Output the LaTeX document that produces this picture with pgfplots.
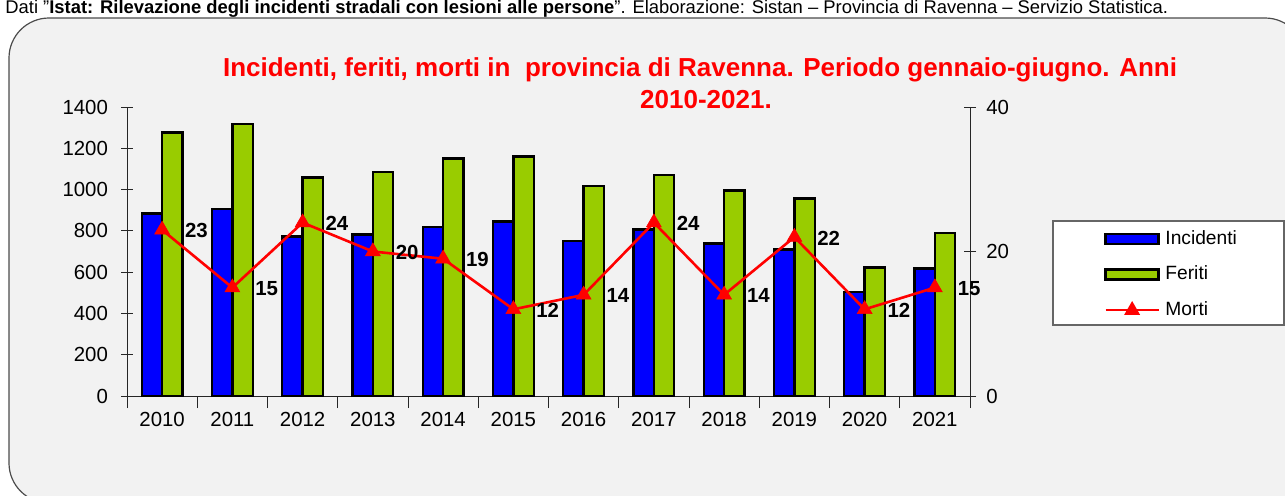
\documentclass[border=0pt]{standalone}
\usepackage{fontspec}
\setmainfont{Liberation Sans}
\usepackage{pgfplots}
\pgfplotsset{compat=1.18}
\definecolor{bgc}{HTML}{F2F2F2}
\definecolor{fer}{HTML}{99CC00}
\definecolor{inc}{HTML}{0000FF}
\newcommand{\tickfont}{\fontsize{10.2}{12}\selectfont}
\newcommand{\dq}{\symbol{34}}
\begin{document}
\begin{tikzpicture}
\begin{scope}[x=0.5pt,y=0.5pt]
\useasboundingbox (0,0) rectangle (1285,495);
\clip (0,0) rectangle (1285,495);
\fill[white] (0,0) rectangle (1285,495);
\draw[fill=bgc, draw=black!70, line width=0.6pt, rounded corners=20pt] (9,-8) rectangle (1305,477);
\node[anchor=base west, inner sep=0pt, font=\fontsize{9.2}{11}\selectfont] at (5,482)
 {Dati \dq\textbf{Istat: Rilevazione degli incidenti stradali con lesioni alle persone}\dq. Elaborazione: Sistan – Provincia di Ravenna – Servizio Statistica.};
\node[anchor=base, inner sep=0pt, text=red, font=\bfseries\fontsize{13}{15}\selectfont] at (700,419)
 {Incidenti, feriti, morti in\ \ provincia di Ravenna. Periodo gennaio-giugno. Anni};
\node[anchor=base, inner sep=0pt, text=red, font=\bfseries\fontsize{13}{15}\selectfont] at (706,387)
 {2010-2021.};
\draw[fill=white, draw=black!60, line width=0.6pt] (1053,170) rectangle (1284,274);
\end{scope}

\begin{axis}[
  at={(63.5pt,49.5pt)}, anchor=south west,
  scale only axis, width=421.5pt, height=144.5pt,
  xmin=-0.5, xmax=11.5, ymin=0, ymax=1400,
  ytick={0,200,...,1400},
  xtick={-0.5,0.5,...,11.5}, xticklabels={},
  extra x ticks={0,1,...,11},
  extra x tick labels={2010,2011,2012,2013,2014,2015,2016,2017,2018,2019,2020,2021},
  extra x tick style={major tick length=0pt},
  axis x line=bottom, axis y line=left,
  axis line style={-, black!85, line width=0.5pt},
  every tick/.style={black!85, line width=0.5pt},
  tick align=center, major tick length=6pt,
  tick label style={font=\tickfont},
  /pgf/number format/assume math mode=true,
  /pgf/number format/1000 sep={},
  yticklabel style={xshift=-3pt},
  xticklabel style={yshift=-4.5pt},
  ybar=0pt, bar width=0.29,
  clip=false,
]
\addplot[fill=inc, draw=black, line width=1.2pt] coordinates {
 (0,885) (1,906) (2,772) (3,783) (4,819) (5,846) (6,751) (7,807) (8,738) (9,710) (10,505) (11,618)};
\addplot[fill=fer, draw=black, line width=1.2pt] coordinates {
 (0,1277) (1,1318) (2,1059) (3,1085) (4,1151) (5,1161) (6,1016) (7,1072) (8,996) (9,956) (10,622) (11,791)};
\end{axis}

\begin{axis}[
  at={(63.5pt,49.5pt)}, anchor=south west,
  scale only axis, width=421.5pt, height=144.5pt,
  xmin=-0.5, xmax=11.5, ymin=0, ymax=40,
  ytick={0,20,40}, xtick=\empty,
  axis x line=none, axis y line=right,
  axis line style={-, black!85, line width=0.5pt},
  every tick/.style={black!85, line width=0.5pt},
  tick align=center, major tick length=6pt,
  tick label style={font=\tickfont},
  /pgf/number format/assume math mode=true,
  yticklabel style={xshift=1.6pt},
  clip=false,
  legend style={draw=none, fill=none, inner sep=0pt,
    at={(1.159,0.42)}, anchor=west,
    font=\fontsize{9.6}{11}\selectfont,
    row sep=8.8pt, column sep=2.8pt,
    nodes={inner sep=0pt, text height=7pt, text depth=2pt}},
  legend cell align=left,
]
\addlegendimage{legend image code/.code={\draw[fill=inc,draw=black,line width=1.2pt] (0pt,-2.5pt) rectangle (26.5pt,2.5pt);}}
\addlegendentry{Incidenti}
\addlegendimage{legend image code/.code={\draw[fill=fer,draw=black,line width=1.2pt] (0pt,-2.5pt) rectangle (26.5pt,2.5pt);}}
\addlegendentry{Feriti}
\addplot[red, line width=1.3pt, mark=triangle*, mark size=4.3pt,
  mark options={solid, fill=red, draw=red, line width=0.3pt},
  legend image code/.code={\draw[red, line width=1pt, mark=triangle*, mark size=3.6pt, mark options={fill=red}, mark repeat=2, mark phase=2] plot coordinates {(0pt,0pt) (13.25pt,0pt) (26.5pt,0pt)};},
  nodes near coords,
  every node near coord/.append style={anchor=west, xshift=8pt, yshift=-0.5pt, text=black, font=\bfseries\tickfont}]
 coordinates {(0,23) (1,15) (2,24) (3,20) (4,19) (5,12) (6,14) (7,24) (8,14) (9,22) (10,12) (11,15)};
\addlegendentry{Morti}
\end{axis}
\end{tikzpicture}
\end{document}
